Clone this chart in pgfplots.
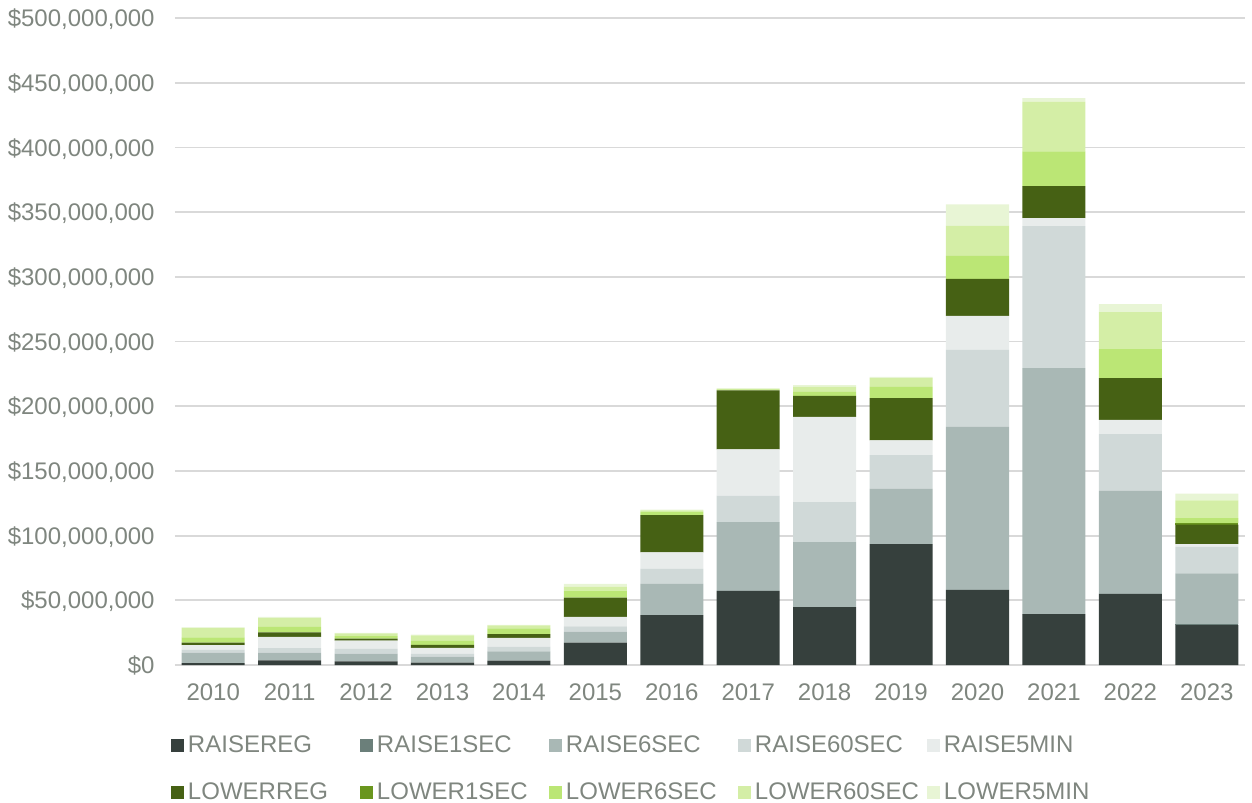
\documentclass[border=0pt]{standalone}
\usepackage{fontspec}
\setmainfont{Liberation Sans}
\usepackage{pgfplots}
\usepackage{pgfplotstable}
\pgfplotsset{compat=1.18}

% palette
\definecolor{txt}{RGB}{127,134,127}
\definecolor{gridgray}{RGB}{217,217,217}
\definecolor{cRREG}{RGB}{54,64,61}
\definecolor{cRONE}{RGB}{107,127,122}
\definecolor{cRSIX}{RGB}{169,184,181}
\definecolor{cRSIXTY}{RGB}{208,217,216}
\definecolor{cRFIVE}{RGB}{232,236,235}
\definecolor{cLREG}{RGB}{70,97,20}
\definecolor{cLONE}{RGB}{106,150,30}
\definecolor{cLSIX}{RGB}{187,230,117}
\definecolor{cLSIXTY}{RGB}{212,238,166}
\definecolor{cLFIVE}{RGB}{232,245,213}

% annual cost by FCAS market, $ million (x = 0 for 2010 ... 13 for 2023)
\pgfplotstableread{
x  RREG  RONE RSIX  RSIXTY RFIVE LREG LONE LSIX LSIXTY LFIVE
0  1.5   0    8.0   2.3    3.6   1.8  0    4.1  7.3    0.5
1  3.6   0    5.9   3.6    8.7   3.4  0    4.3  6.7    1.0
2  2.9   0    5.9   3.6    6.4   1.5  0    2.1  2.1    0.3
3  1.8   0    4.6   2.3    4.6   2.3  0    3.1  4.2    0.5
4  3.3   0    7.3   3.6    6.7   2.9  0    4.6  2.2    0.4
5  17.2  0    8.5   4.2    7.2   14.9 0    5.4  3.1    2.1
6  38.6  0    24.0  11.6   12.9  28.8 0    2.6  1.0    0.5
7  57.2  0    53.3  20.3   35.9  45.6 0    0.7  0.5    0.3
8  44.8  0    50.2  30.9   65.9  16.2 0    3.1  3.9    1.3
9  93.5  0    42.7  26.0   11.4  32.7 0    8.7  6.7    1.0
10 58.0  0    126.0 59.5   26.3  28.6 0    17.8 23.2   16.5
11 39.4  0    190.0 109.7  6.2   24.7 0    27.0 38.4   2.6
12 54.9  0    79.6  44.0   11.0  32.2 0    22.4 28.6   6.2
13 30.9  0.5  39.4  20.6   2.0   15.0 1.0  4.1  13.7   5.2
}\fcas

\begin{document}
\begin{tikzpicture}
\path (-87.5pt,-68pt) rectangle (538.5pt,332.5pt);
\begin{axis}[
  at={(0,0)}, anchor=south west,
  scale only axis, width=535pt, height=323.5pt,
  ybar stacked, bar width=0.825,
  xmin=-0.5, xmax=13.5, ymin=0, ymax=500,
  axis lines*=left,
  x axis line style={draw=gridgray, line width=1pt},
  y axis line style={draw=none},
  tick align=outside, major tick length=3.5pt,
  xtick={0,...,13},
  xticklabels={2010,2011,2012,2013,2014,2015,2016,2017,2018,2019,2020,2021,2022,2023},
  xtick style={draw=none},
  extra x ticks={-0.5,0.5,...,13.5},
  extra x tick labels={},
  extra x tick style={grid=none, tick style={draw=gridgray, line width=1pt}},
  ytick={0,50,...,500},
  yticklabels={{\$0},{\$50,000,000},{\$100,000,000},{\$150,000,000},{\$200,000,000},{\$250,000,000},{\$300,000,000},{\$350,000,000},{\$400,000,000},{\$450,000,000},{\$500,000,000}},
  ytick style={draw=none},
  ymajorgrids, grid style={draw=gridgray, line width=0.9pt},
  ticklabel style={font=\fontsize{12}{14}\selectfont, text=txt, inner sep=0pt},
  xticklabel style={yshift=-5.7pt},
  yticklabel style={anchor=base east, yshift=-4.3pt, xshift=-6.5pt},
  /pgf/number format/assume math mode=true,
  every axis plot/.append style={draw=none},
  legend columns=5,
  legend cell align=left,
  legend image code/.code={\fill[#1, draw=none] (0pt,-3.25pt) rectangle (6.5pt,3.25pt);},
  legend style={at={(0,0)}, anchor=north west, xshift=-2pt, yshift=-35.55pt,
    draw=none, fill=none, inner sep=0pt, outer sep=0pt,
    font=\fontsize{12}{14}\selectfont, text=txt,
    nodes={inner sep=0pt}, column sep=0pt, row sep=13.2pt,
    /tikz/every odd column/.append style={column sep=2pt}},
]
\addplot[fill=cRREG]   table[x=x, y=RREG]   {\fcas}; \addlegendentry{\makebox[86pt][l]{RAISEREG}}
\addplot[fill=cRONE]   table[x=x, y=RONE]   {\fcas}; \addlegendentry{\makebox[86pt][l]{RAISE1SEC}}
\addplot[fill=cRSIX]   table[x=x, y=RSIX]   {\fcas}; \addlegendentry{\makebox[86pt][l]{RAISE6SEC}}
\addplot[fill=cRSIXTY] table[x=x, y=RSIXTY] {\fcas}; \addlegendentry{\makebox[86pt][l]{RAISE60SEC}}
\addplot[fill=cRFIVE]  table[x=x, y=RFIVE]  {\fcas}; \addlegendentry{\makebox[86pt][l]{RAISE5MIN}}
\addplot[fill=cLREG]   table[x=x, y=LREG]   {\fcas}; \addlegendentry{\makebox[86pt][l]{LOWERREG}}
\addplot[fill=cLONE]   table[x=x, y=LONE]   {\fcas}; \addlegendentry{\makebox[86pt][l]{LOWER1SEC}}
\addplot[fill=cLSIX]   table[x=x, y=LSIX]   {\fcas}; \addlegendentry{\makebox[86pt][l]{LOWER6SEC}}
\addplot[fill=cLSIXTY] table[x=x, y=LSIXTY] {\fcas}; \addlegendentry{\makebox[86pt][l]{LOWER60SEC}}
\addplot[fill=cLFIVE]  table[x=x, y=LFIVE]  {\fcas}; \addlegendentry{\makebox[86pt][l]{LOWER5MIN}}
\end{axis}
\end{tikzpicture}
\end{document}
